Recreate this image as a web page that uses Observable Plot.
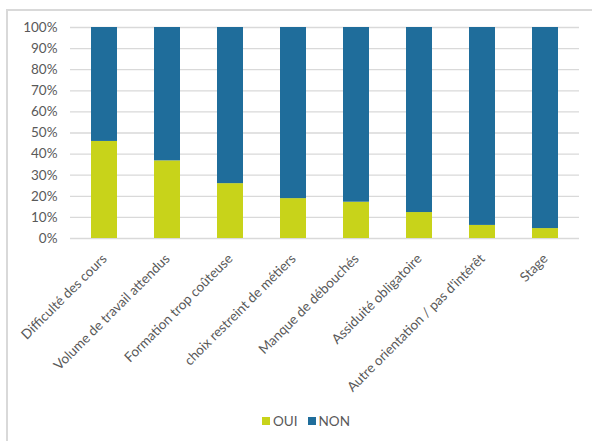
<!DOCTYPE html>
<html>
<head>
<meta charset="utf-8">
<script src="https://cdn.jsdelivr.net/npm/d3@7"></script>
<script src="https://cdn.jsdelivr.net/npm/@observablehq/plot@0.6"></script>
<style>
  html, body { margin: 0; padding: 0; background: #fff; overflow: hidden; }
  #wrap { position: relative; width: 592px; height: 441px; font-family: Lato, sans-serif; }
  #frame { position: absolute; left: 6px; top: 9px; width: 600px; height: 450px; border: 2px solid #d9d9d9; box-sizing: border-box; }
  #chart { position: absolute; left: 0; top: 0; }
  #legend { position: absolute; left: 262px; top: 412px; display: flex; align-items: center; font-size: 13.5px; color: #595959; line-height: 18px; }
  .sw { display: inline-block; width: 8px; height: 8px; margin-right: 3px; }
  .item { display: flex; align-items: center; margin-right: 10px; }
</style>
</head>
<body>
<div id="wrap">
  <div id="frame"></div>
  <div id="chart"></div>
  <div id="legend"></div>
</div>
<script>
const categories = [
  "Difficulté des cours",
  "Volume de travail attendus",
  "Formation trop coûteuse",
  "choix restreint de métiers",
  "Manque de débouchés",
  "Assiduité obligatoire",
  "Autre orientation / pas d'intérêt",
  "Stage"
];
const series = ["OUI", "NON"];
const oui = [46.0, 36.8, 26.0, 18.9, 17.2, 12.3, 6.2, 4.7];
const non = [54.0, 63.2, 74.0, 81.1, 82.8, 87.7, 93.8, 95.3];
const yTicks = [0, 10, 20, 30, 40, 50, 60, 70, 80, 90, 100];
const colors = ["#c8d31a", "#1f6d9b"];

const data = [];
categories.forEach((c, i) => {
  data.push({cat: c, series: "OUI", value: oui[i]});
  data.push({cat: c, series: "NON", value: non[i]});
});

const chart = Plot.plot({
  width: 592,
  height: 400,
  marginLeft: 70,
  marginRight: 13,
  marginTop: 27,
  marginBottom: 162,
  style: {fontFamily: "Lato, sans-serif", fontSize: "13.5px", color: "#595959", background: "transparent"},
  x: {domain: categories, paddingInner: 0.59, paddingOuter: 0.295, label: null},
  y: {domain: [0, 100], label: null},
  color: {domain: series, range: colors},
  marks: [
    Plot.gridY(yTicks, {stroke: "#d9d9d9", strokeOpacity: 1, strokeWidth: 1.3}),
    Plot.barY(data, {x: "cat", y: "value", fill: "series"}),
    Plot.axisY(yTicks, {tickSize: 0, tickPadding: 13, tickFormat: d => d + "%", fill: "#595959"}),
    Plot.axisX({tickSize: 0, tickPadding: 18, tickRotate: -45, fill: "#595959", label: null})
  ]
});
document.getElementById("chart").appendChild(chart);

const legend = document.getElementById("legend");
series.forEach((s, i) => {
  const item = document.createElement("span");
  item.className = "item";
  const sw = document.createElement("span");
  sw.className = "sw";
  sw.style.background = colors[i];
  item.appendChild(sw);
  item.appendChild(document.createTextNode(s));
  legend.appendChild(item);
});
</script>
</body>
</html>
